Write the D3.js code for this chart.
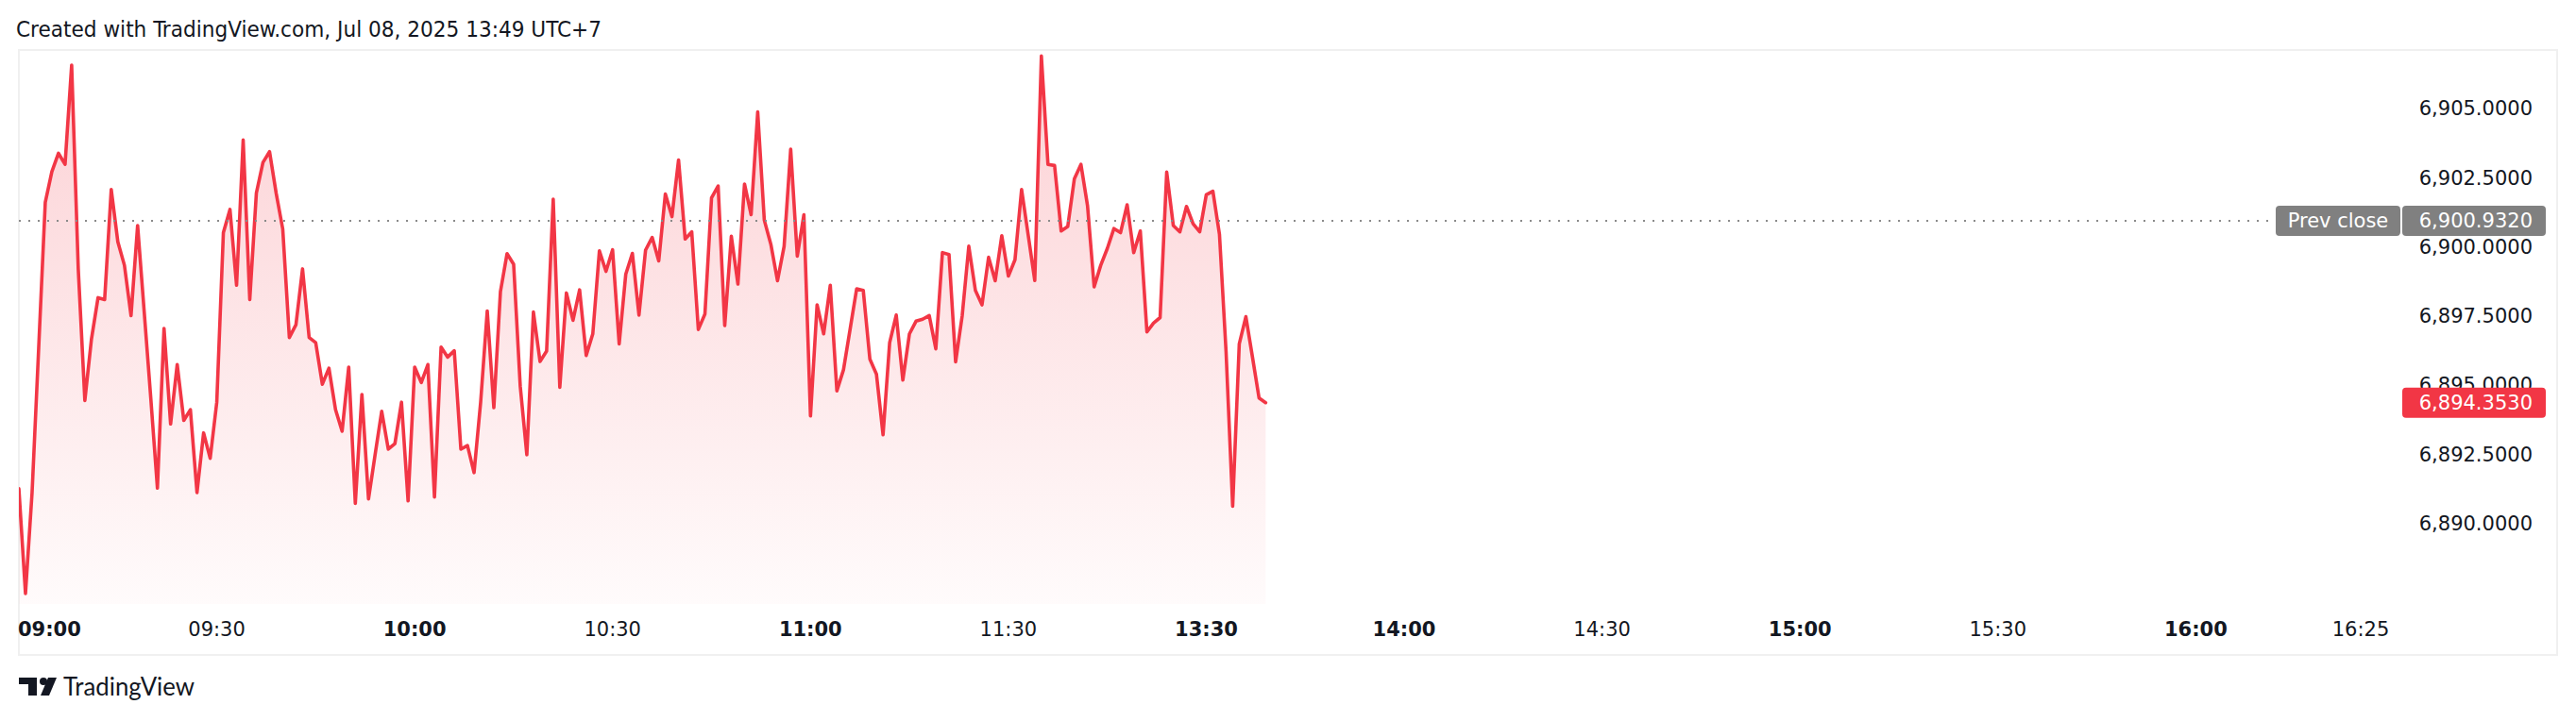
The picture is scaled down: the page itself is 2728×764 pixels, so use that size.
<!DOCTYPE html>
<html><head><meta charset="utf-8">
<script src="https://cdn.jsdelivr.net/npm/d3@7"></script>
<style>html,body{margin:0;padding:0;background:#fff;overflow:hidden} svg{display:block}</style>
</head><body>
<svg id="c" width="2728" height="764"></svg>
<script>
// ---- DATA (one value per trading minute, starting 09:00) ----
const values = [
6891.24, 6887.45, 6891.10, 6896.32, 6901.60, 6902.71, 6903.37, 6902.97, 6906.56, 6899.19,
6894.43, 6896.65, 6898.15, 6898.08, 6902.06, 6900.17, 6899.32, 6897.50, 6900.76, 6897.63,
6894.50, 6891.26, 6897.04, 6893.58, 6895.73, 6893.71, 6894.10, 6891.10, 6893.26, 6892.34,
6894.37, 6900.50, 6901.34, 6898.60, 6903.85, 6898.08, 6901.93, 6903.04, 6903.43, 6901.93,
6900.63, 6896.71, 6897.17, 6899.19, 6896.71, 6896.52, 6895.02, 6895.60, 6894.10, 6893.32,
6895.64, 6890.71, 6894.65, 6890.87, 6892.47, 6894.04, 6892.67, 6892.87, 6894.37, 6890.80,
6895.64, 6895.08, 6895.73, 6890.94, 6896.36, 6896.00, 6896.23, 6892.67, 6892.80, 6891.82,
6894.37, 6897.67, 6894.17, 6898.37, 6899.74, 6899.36, 6894.95, 6892.47, 6897.63, 6895.84,
6896.22, 6901.71, 6894.91, 6898.32, 6897.33, 6898.43, 6896.06, 6896.84, 6899.84, 6899.10,
6899.88, 6896.48, 6899.00, 6899.75, 6897.52, 6899.87, 6900.33, 6899.48, 6901.90, 6901.08,
6903.13, 6900.27, 6900.53, 6897.00, 6897.56, 6901.76, 6902.19, 6897.14, 6900.37, 6898.64,
6902.26, 6901.15, 6904.87, 6900.95, 6900.07, 6898.76, 6900.00, 6903.52, 6899.65, 6901.15,
6893.87, 6897.89, 6896.84, 6898.60, 6894.78, 6895.54, 6897.00, 6898.47, 6898.41, 6895.93,
6895.38, 6893.19, 6896.52, 6897.52, 6895.17, 6896.84, 6897.30, 6897.37, 6897.50, 6896.30,
6899.78, 6899.71, 6895.83, 6897.50, 6900.01, 6898.41, 6897.89, 6899.61, 6898.76, 6900.39,
6898.93, 6899.52, 6902.06, 6900.42, 6898.77, 6906.89, 6902.97, 6902.93, 6900.56, 6900.72,
6902.45, 6902.97, 6901.47, 6898.54, 6899.32, 6899.93, 6900.65, 6900.50, 6901.51, 6899.78,
6900.56, 6896.91, 6897.23, 6897.43, 6902.69, 6900.76, 6900.53, 6901.45, 6900.82, 6900.53,
6901.87, 6902.00, 6900.43, 6896.19, 6890.61, 6896.48, 6897.46, 6896.00, 6894.52, 6894.353
];
const timeLabels  = ["09:00","09:30","10:00","10:30","11:00","11:30","13:30","14:00","14:30","15:00","15:30","16:00","16:25"];
const timeMinutes = [0, 30, 60, 90, 120, 150, 180, 210, 240, 270, 300, 330, 355]; // trading minutes since 09:00
const timeBold    = [true,false,true,false,true,false,true,true,false,true,false,true,false];
const priceTicks  = [6890, 6892.5, 6895, 6897.5, 6900, 6902.5, 6905];
const prevClose   = 6900.932;
const lastPrice   = 6894.353;
const headerText  = "Created with TradingView.com, Jul 08, 2025 13:49 UTC+7";
const prevLabel   = "Prev close";

// ---- LAYOUT ----
const W = 2728, H = 764;
const paneL = 20, paneR = 2543, paneT = 53, paneB = 640;
const FONT = "'DejaVu Sans', sans-serif";
const RED = "#F23645", GREY = "#808080", TXT = "#131722";

const svg = d3.select("#c");
const x = d3.scaleLinear().domain([0, 355]).range([20, 2500]);
const y = d3.scaleLinear().domain([6890, 6905]).range([554.2, 114.7]);
const fmt = d3.format(",.4f");

svg.append("rect").attr("width", W).attr("height", H).attr("fill", "#fff");

const defs = svg.append("defs");
const grad = defs.append("linearGradient").attr("id", "g").attr("gradientUnits", "userSpaceOnUse")
  .attr("x1", 0).attr("x2", 0).attr("y1", y(d3.max(values))).attr("y2", paneB);
grad.append("stop").attr("offset", 0).attr("stop-color", RED).attr("stop-opacity", 0.23);
grad.append("stop").attr("offset", 1).attr("stop-color", RED).attr("stop-opacity", 0.02);
defs.append("clipPath").attr("id", "clip").append("rect")
  .attr("x", paneL).attr("y", paneT).attr("width", paneR - paneL).attr("height", paneB - paneT);

// frame
svg.append("rect").attr("x", 20).attr("y", 53).attr("width", 2688).attr("height", 641)
  .attr("fill", "none").attr("stroke", "#F0F0F0").attr("stroke-width", 2);

const plot = svg.append("g").attr("clip-path", "url(#clip)");

const area = d3.area().x((d, i) => x(i)).y0(paneB).y1(d => y(d));
plot.append("path").datum(values).attr("d", area).attr("fill", "url(#g)");

// prev close dotted line
svg.append("line").attr("x1", paneL).attr("x2", 2404)
  .attr("y1", y(prevClose)).attr("y2", y(prevClose))
  .attr("stroke", "#8a8a8a").attr("stroke-width", 2).attr("stroke-dasharray", "2 8");

const line = d3.line().x((d, i) => x(i)).y(d => y(d));
plot.append("path").datum(values).attr("d", line).attr("fill", "none")
  .attr("stroke", RED).attr("stroke-width", 3.6).attr("stroke-linejoin", "round").attr("stroke-linecap", "round");

// price axis labels
svg.append("g").selectAll("text").data(priceTicks).join("text")
  .attr("x", 2682).attr("y", d => y(d)).attr("dy", "0.36em")
  .attr("text-anchor", "end").attr("font-family", FONT).attr("font-size", 21).attr("fill", TXT)
  .text(d => fmt(d));

// prev close labels
const pcy = y(prevClose);
svg.append("rect").attr("x", 2410).attr("y", pcy - 16).attr("width", 132).attr("height", 32).attr("rx", 4).attr("fill", GREY);
svg.append("rect").attr("x", 2544).attr("y", pcy - 16).attr("width", 152).attr("height", 32).attr("rx", 4).attr("fill", GREY);
svg.append("text").attr("x", 2476).attr("y", pcy).attr("dy", "0.36em").attr("text-anchor", "middle")
  .attr("font-family", FONT).attr("font-size", 21).attr("fill", "#fff").text(prevLabel);
svg.append("text").attr("x", 2682).attr("y", pcy).attr("dy", "0.36em").attr("text-anchor", "end")
  .attr("font-family", FONT).attr("font-size", 21).attr("fill", "#fff").text(fmt(prevClose));

// last price label
const lpy = y(lastPrice);
svg.append("rect").attr("x", 2544).attr("y", lpy - 16).attr("width", 152).attr("height", 32).attr("rx", 4).attr("fill", RED);
svg.append("text").attr("x", 2682).attr("y", lpy).attr("dy", "0.36em").attr("text-anchor", "end")
  .attr("font-family", FONT).attr("font-size", 21).attr("fill", "#fff").text(fmt(lastPrice));

// time axis
const tg = svg.append("g");
timeLabels.forEach((lab, i) => {
  const t = tg.append("text").attr("x", x(timeMinutes[i])).attr("y", 666).attr("dy", "0.36em")
    .attr("text-anchor", "middle").attr("font-family", FONT).attr("font-size", 21)
    .attr("font-weight", timeBold[i] ? "bold" : "normal").attr("fill", TXT).text(lab);
  const bb = t.node().getBBox();
  if (bb.x < paneL) t.attr("text-anchor", "start").attr("x", paneL - 1);
});

// header
svg.append("text").attr("x", 17).attr("y", 39).attr("font-family", "'DejaVu Sans Condensed', 'DejaVu Sans', sans-serif")
  .attr("font-size", 23).attr("fill", TXT).attr("textLength", 620).attr("lengthAdjust", "spacingAndGlyphs").text(headerText);

// logo
const lg = svg.append("g").attr("fill", "#131722");
lg.append("path").attr("d", "M20 718 H39 V737 H30 V725 H20 Z");
lg.append("circle").attr("cx", 46).attr("cy", 722).attr("r", 4);
lg.append("path").attr("d", "M51 718 H60 L52 737 H43 Z");
svg.append("text").attr("x", 67).attr("y", 737).attr("font-family", "Lato, 'Open Sans', sans-serif")
  .attr("font-size", 26).attr("fill", "#131722").attr("textLength", 139).attr("lengthAdjust", "spacingAndGlyphs").text("TradingView");
</script>
</body></html>
